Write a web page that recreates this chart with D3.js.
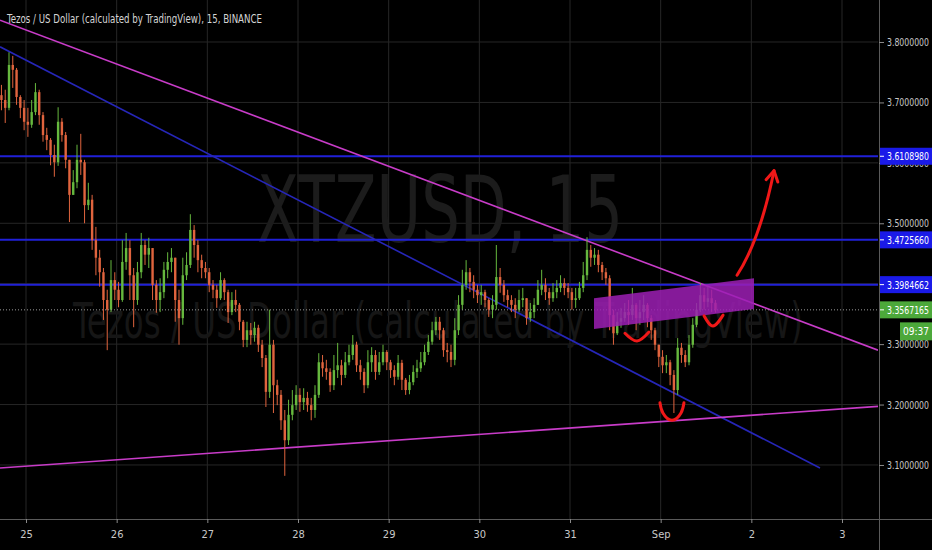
<!DOCTYPE html>
<html><head><meta charset="utf-8">
<script src="https://cdn.jsdelivr.net/npm/d3@7"></script>
<style>html,body{margin:0;padding:0;background:#000;overflow:hidden}</style>
</head><body>
<svg id="c" width="932" height="550"></svg>
<script>
// ---------- DATA ----------
const firstOpen = 3.712;
const closes = [
3.704,3.691,3.762,3.754,3.709,3.691,3.668,3.663,3.684,3.717,
3.679,3.646,3.638,3.613,3.601,3.668,3.646,3.605,3.547,3.568,
3.605,3.601,3.530,3.539,3.472,3.443,3.419,3.373,3.357,3.406,
3.390,3.373,3.436,3.459,3.414,3.373,3.419,3.464,3.448,3.459,
3.398,3.373,3.386,3.423,3.436,3.443,3.373,3.343,3.414,3.431,
3.489,3.464,3.439,3.426,3.419,3.398,3.390,3.376,3.406,3.386,
3.353,3.373,3.365,3.337,3.307,3.323,3.315,3.327,3.299,3.277,
3.221,3.299,3.232,3.216,3.174,3.141,3.183,3.199,3.216,3.204,
3.211,3.199,3.191,3.216,3.270,3.260,3.254,3.232,3.257,3.265,
3.249,3.270,3.282,3.299,3.265,3.254,3.232,3.270,3.282,3.254,
3.270,3.287,3.270,3.257,3.246,3.269,3.241,3.224,3.237,3.254,
3.260,3.270,3.287,3.304,3.323,3.337,3.323,3.290,3.287,3.274,
3.323,3.365,3.398,3.419,3.403,3.390,3.381,3.386,3.373,3.357,
3.365,3.411,3.398,3.381,3.373,3.365,3.357,3.373,3.376,3.343,
3.353,3.365,3.390,3.398,3.386,3.376,3.386,3.393,3.401,3.393,
3.386,3.373,3.376,3.393,3.414,3.456,3.443,3.448,3.431,3.419,
3.409,3.348,3.318,3.337,3.343,3.353,3.348,3.365,3.343,3.353,
3.365,3.343,3.323,3.299,3.279,3.265,3.270,3.249,3.224,3.294,
3.282,3.270,3.299,3.332,3.357,3.381,3.370,3.376,3.368,3.3567165];
const highs = [
3.729,3.721,3.783,3.777,3.757,3.712,3.704,3.691,3.704,3.732,
3.721,3.684,3.658,3.641,3.630,3.692,3.674,3.651,3.605,3.588,
3.630,3.648,3.605,3.567,3.547,3.494,3.456,3.426,3.390,3.439,
3.419,3.403,3.472,3.484,3.472,3.426,3.436,3.484,3.472,3.476,
3.459,3.406,3.409,3.436,3.452,3.459,3.443,3.390,3.443,3.452,
3.515,3.497,3.472,3.448,3.436,3.426,3.406,3.398,3.419,3.409,
3.390,3.386,3.390,3.368,3.340,3.337,3.335,3.337,3.332,3.307,
3.282,3.357,3.307,3.241,3.224,3.191,3.208,3.224,3.232,3.227,
3.227,3.221,3.211,3.232,3.285,3.282,3.274,3.260,3.282,3.302,
3.274,3.287,3.299,3.315,3.304,3.274,3.260,3.290,3.295,3.290,
3.287,3.299,3.290,3.274,3.265,3.282,3.274,3.244,3.249,3.265,
3.274,3.287,3.299,3.315,3.337,3.345,3.345,3.327,3.302,3.299,
3.343,3.381,3.423,3.439,3.426,3.414,3.398,3.398,3.390,3.376,
3.381,3.464,3.426,3.406,3.390,3.381,3.376,3.390,3.393,3.376,
3.368,3.376,3.406,3.423,3.409,3.393,3.401,3.406,3.414,3.409,
3.401,3.393,3.393,3.403,3.436,3.477,3.464,3.459,3.456,3.436,
3.426,3.414,3.357,3.353,3.360,3.368,3.373,3.393,3.368,3.373,
3.381,3.368,3.348,3.327,3.299,3.290,3.282,3.274,3.257,3.310,
3.302,3.290,3.315,3.343,3.368,3.401,3.393,3.395,3.390,3.373];
const lows = [
3.687,3.666,3.687,3.724,3.696,3.674,3.654,3.643,3.658,3.679,
3.663,3.635,3.621,3.596,3.577,3.595,3.635,3.591,3.502,3.547,
3.558,3.580,3.500,3.522,3.456,3.414,3.395,3.340,3.290,3.353,
3.373,3.361,3.370,3.423,3.373,3.328,3.365,3.409,3.431,3.426,
3.373,3.352,3.353,3.376,3.409,3.419,3.337,3.299,3.332,3.406,
3.426,3.443,3.419,3.409,3.409,3.386,3.376,3.360,3.373,3.373,
3.335,3.348,3.353,3.323,3.295,3.295,3.299,3.304,3.287,3.262,
3.196,3.211,3.186,3.199,3.158,3.082,3.133,3.174,3.191,3.188,
3.191,3.188,3.174,3.178,3.211,3.246,3.241,3.221,3.224,3.244,
3.232,3.244,3.265,3.274,3.254,3.241,3.219,3.227,3.254,3.241,
3.249,3.265,3.257,3.244,3.232,3.241,3.224,3.216,3.217,3.232,
3.244,3.254,3.265,3.282,3.299,3.315,3.307,3.279,3.270,3.262,
3.265,3.315,3.357,3.390,3.386,3.376,3.368,3.365,3.361,3.345,
3.343,3.357,3.385,3.370,3.361,3.353,3.343,3.353,3.361,3.332,
3.337,3.343,3.365,3.381,3.373,3.365,3.370,3.376,3.386,3.381,
3.376,3.357,3.360,3.373,3.386,3.406,3.428,3.431,3.419,3.406,
3.398,3.323,3.299,3.315,3.327,3.337,3.332,3.340,3.323,3.332,
3.340,3.328,3.307,3.290,3.262,3.252,3.252,3.232,3.186,3.216,
3.269,3.262,3.265,3.294,3.328,3.353,3.357,3.361,3.353,3.352];

const priceTicks = [3.8, 3.7, 3.6, 3.5, 3.4, 3.3, 3.2, 3.1];
const dayTickLabels = ["25","26","27","28","29","30","31","Sep","2","3"];
const levelLines = [3.6108980, 3.4725660, 3.3984662];
const lastPrice = 3.3567165;
const countdown = "09:37";
const titleText = "Tezos / US Dollar (calculated by TradingView), 15, BINANCE";
const watermark1 = "XTZUSD, 15";
const watermark2 = "Tezos / US Dollar (calculated by TradingView)";

// drawings: [days since Aug 25 00:00, price]
const magentaTop    = [[-0.287, 3.836], [9.397, 3.290]];
const blueChannel   = [[-0.287, 3.792], [8.757, 3.095]];
const magentaBottom = [[-0.287, 3.095], [9.397, 3.197]];
const zone = [[6.2645, 3.376], [8.0291, 3.409], [8.0291, 3.358], [6.2645, 3.325]];
const arcs = [
  [[6.606, 3.318], [6.739, 3.305], [6.871, 3.320]],
  [[6.992, 3.203], [7.025, 3.186], [7.125, 3.174], [7.224, 3.186], [7.257, 3.203]],
  [[7.478, 3.347], [7.577, 3.330], [7.688, 3.348]]
];
const arrowPts = [[7.842, 3.414], [8.095, 3.472], [8.250, 3.587]]; // start, control, tip

// ---------- SETUP ----------
const W = 932, H = 550, PW = 879, PH = 519;
const base = new Date(2020, 7, 25, 0, 0);
const dayToDate = d => new Date(base.getTime() + d * 864e5);
const candleStart = new Date(2020, 7, 24, 17, 30);

const x = d3.scaleTime().domain([dayToDate(-0.2868), dayToDate(9.397)]).range([0, 878]);
const y = d3.scaleLinear().domain([3.0106, 3.8695]).range([PH, 0]);
const X = d => x(dayToDate(d[0])), Y = d => y(d[1]);

const svg = d3.select("#c");
svg.append("rect").attr("width", W).attr("height", H).attr("fill", "#000");
svg.append("defs").append("clipPath").attr("id", "plot")
  .append("rect").attr("width", 878).attr("height", PH);

const plot = svg.append("g").attr("clip-path", "url(#plot)");

// grid
const dayDates = dayTickLabels.map((_, i) => dayToDate(i));
plot.selectAll(".vg").data(dayDates).join("line")
  .attr("x1", d => x(d)).attr("x2", d => x(d)).attr("y1", 0).attr("y2", PH)
  .attr("stroke", "#262626").attr("stroke-width", 1);
plot.selectAll(".hg").data(priceTicks).join("line")
  .attr("x1", 0).attr("x2", 878).attr("y1", d => y(d)).attr("y2", d => y(d))
  .attr("stroke", "#262626").attr("stroke-width", 1);

// watermarks
const narrow = "'Liberation Sans Narrow','DejaVu Sans Condensed','Arial Narrow',sans-serif";
plot.append("text").text(watermark1).attr("x", 440).attr("y", 242)
  .attr("text-anchor", "middle").attr("font-family", narrow).attr("font-size", 92)
  .attr("fill", "#1c1c1c").attr("textLength", 366).attr("lengthAdjust", "spacingAndGlyphs");
plot.append("text").text(watermark2).attr("x", 438).attr("y", 338)
  .attr("text-anchor", "middle").attr("font-family", narrow).attr("font-size", 50)
  .attr("fill", "#161616").attr("textLength", 730).attr("lengthAdjust", "spacingAndGlyphs");

// level lines
plot.selectAll(".lvl").data(levelLines).join("line")
  .attr("x1", 0).attr("x2", 878).attr("y1", d => y(d)).attr("y2", d => y(d))
  .attr("stroke", "#2020d8").attr("stroke-width", 2);

// trend lines
const tl = d3.line().x(X).y(Y);
plot.append("path").attr("d", tl(blueChannel)).attr("stroke", "#2626b8").attr("stroke-width", 1.6).attr("fill", "none");
plot.append("path").attr("d", tl(magentaTop)).attr("stroke", "#c83cc8").attr("stroke-width", 1.6).attr("fill", "none");
plot.append("path").attr("d", tl(magentaBottom)).attr("stroke", "#c83cc8").attr("stroke-width", 1.6).attr("fill", "none");

// candles
const candles = closes.map((c, i) => ({
  t: new Date(candleStart.getTime() + i * 36e5),
  o: i ? closes[i - 1] : firstOpen, h: highs[i], l: lows[i], c
}));
const UP = "#66b83e", DN = "#e0643e";
const cg = plot.append("g");
cg.selectAll(".wick").data(candles).join("line")
  .attr("x1", d => x(d.t)).attr("x2", d => x(d.t))
  .attr("y1", d => y(d.h)).attr("y2", d => y(d.l))
  .attr("stroke", d => d.c >= d.o ? UP : DN).attr("stroke-width", 1);
cg.selectAll(".body").data(candles).join("rect")
  .attr("x", d => x(d.t) - 1.2).attr("width", 2.4)
  .attr("y", d => y(Math.max(d.o, d.c)))
  .attr("height", d => Math.max(1, Math.abs(y(d.o) - y(d.c))))
  .attr("fill", d => d.c >= d.o ? UP : DN);

// last price dotted line
plot.append("line").attr("x1", 0).attr("x2", 878).attr("y1", y(lastPrice)).attr("y2", y(lastPrice))
  .attr("stroke", "#9a9a9a").attr("stroke-width", 1).attr("stroke-dasharray", "1,2");

// zone
plot.append("path").attr("d", d3.line().x(X).y(Y)(zone) + "Z")
  .attr("fill", "#9c1fb4").attr("fill-opacity", 0.85);

// arcs
const arcLine = d3.line().x(X).y(Y).curve(d3.curveNatural);
plot.selectAll(".arc").data(arcs).join("path").attr("d", arcLine)
  .attr("fill", "none").attr("stroke", "#f01818").attr("stroke-width", 3).attr("stroke-linecap", "round");

// arrow
const [a0, a1, a2] = arrowPts.map(p => [X(p), Y(p)]);
const ap = d3.path(); ap.moveTo(a0[0], a0[1]); ap.quadraticCurveTo(a1[0], a1[1], a2[0], a2[1]);
plot.append("path").attr("d", ap.toString()).attr("fill", "none").attr("stroke", "#f01818")
  .attr("stroke-width", 3).attr("stroke-linecap", "round");
{
  const dx = a1[0] - a2[0], dy = a1[1] - a2[1], L = Math.hypot(dx, dy);
  const ux = dx / L, uy = dy / L, len = 12, ang = Math.PI / 6;
  const barb = s => [a2[0] + len * (ux * Math.cos(s * ang) - uy * Math.sin(s * ang)),
                     a2[1] + len * (ux * Math.sin(s * ang) + uy * Math.cos(s * ang))];
  const b1 = barb(1), b2 = barb(-1);
  plot.append("path").attr("d", `M${b1[0]},${b1[1]}L${a2[0]},${a2[1]}L${b2[0]},${b2[1]}`)
    .attr("fill", "none").attr("stroke", "#f01818").attr("stroke-width", 3)
    .attr("stroke-linecap", "round").attr("stroke-linejoin", "round");
}

// title
svg.append("text").text(titleText).attr("x", 7).attr("y", 23)
  .attr("font-family", narrow).attr("font-size", 12).attr("fill", "#d4d4d4")
  .attr("textLength", 255).attr("lengthAdjust", "spacingAndGlyphs");

// ---------- AXES ----------
const axisCol = "#5a5a5a", txtCol = "#c8c8c8";
svg.append("line").attr("x1", 0).attr("x2", W).attr("y1", PH + 0.5).attr("y2", PH + 0.5).attr("stroke", axisCol);
svg.append("line").attr("x1", PW + 0.5).attr("x2", PW + 0.5).attr("y1", 0).attr("y2", H).attr("stroke", axisCol);

const tagged = levelLines.concat([lastPrice]);
const yAxis = d3.axisRight(y).tickValues(priceTicks)
  .tickFormat(v => tagged.some(t => Math.abs(y(t) - y(v)) < 4) ? "" : d3.format(".7f")(v))
  .tickSize(5).tickPadding(3);
const ya = svg.append("g").attr("transform", `translate(${PW},0)`).call(yAxis);
ya.select(".domain").remove();
ya.selectAll("line").attr("stroke", "#8a8a8a");
ya.selectAll("text").attr("fill", txtCol).attr("font-family", narrow).attr("font-size", 11)
  .attr("textLength", 42).attr("lengthAdjust", "spacingAndGlyphs");

const xAxis = d3.axisBottom(x).tickValues(dayDates).tickFormat((d, i) => dayTickLabels[i]).tickSize(4).tickPadding(7);
const xa = svg.append("g").attr("transform", `translate(0,${PH})`).call(xAxis);
xa.select(".domain").remove();
xa.selectAll("line").attr("stroke", "#8a8a8a");
xa.selectAll("text").attr("fill", txtCol).attr("font-family", narrow).attr("font-size", 11);

// price labels
const labelG = svg.append("g");
function tag(v, col, txt) {
  const cy = y(v);
  labelG.append("rect").attr("x", PW + 1).attr("y", cy - 8.5).attr("width", W - PW).attr("height", 17).attr("fill", col);
  labelG.append("line").attr("x1", PW + 1).attr("x2", PW + 5).attr("y1", cy).attr("y2", cy).attr("stroke", "#fff");
  labelG.append("text").text(txt).attr("x", PW + 8).attr("y", cy + 4)
    .attr("fill", "#fff").attr("font-family", narrow).attr("font-size", 11)
    .attr("textLength", 42).attr("lengthAdjust", "spacingAndGlyphs");
}
levelLines.forEach(v => tag(v, "#1a1ae8", d3.format(".7f")(v)));
tag(lastPrice, "#4ca83a", d3.format(".7f")(lastPrice));
{
  const cy = y(lastPrice) + 21.5;
  labelG.append("rect").attr("x", 900).attr("y", cy - 9).attr("width", W - 900).attr("height", 18).attr("fill", "#4ca83a");
  labelG.append("text").text(countdown).attr("x", 916).attr("y", cy + 4).attr("text-anchor", "middle")
    .attr("fill", "#fff").attr("font-family", narrow).attr("font-size", 11)
    .attr("textLength", 26).attr("lengthAdjust", "spacingAndGlyphs");
}
</script>
</body></html>
